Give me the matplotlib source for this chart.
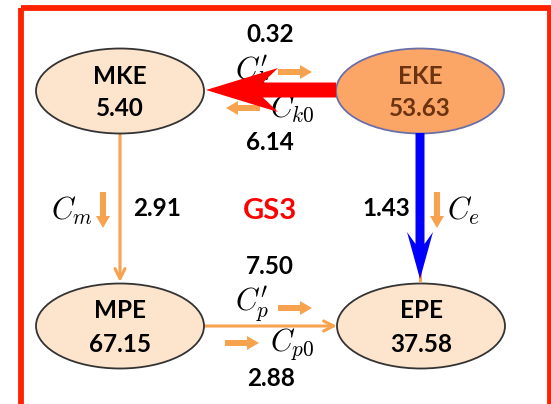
import numpy as np
import matplotlib.pyplot as plt
from matplotlib.patches import Ellipse, Rectangle, Polygon

plt.rcParams['mathtext.fontset'] = 'cm'

# energy reservoirs
box_names = ['MKE', 'EKE', 'MPE', 'EPE']
box_values = ['5.40', '53.63', '67.15', '37.58']
box_xy = [(120, 91), (420, 91), (120, 326), (421, 326)]
box_fill = ['#fde4cd', '#fba567', '#fde4cd', '#fde4cd']
box_edge = ['#333333', '#6a6fa8', '#333333', '#333333']
box_text = ['black', '#6b3410', 'black', 'black']

# conversion terms
conv_values = ['0.32', '6.14', '2.91', '1.43', '7.50', '2.88']
conv_xy = [(270, 35), (270, 142), (157, 208), (386, 208), (270, 266), (271, 378)]
conv_labels = [r"$C_k'$", r'$C_{k0}$', r'$C_m$', r'$C_e$', r"$C_p'$", r'$C_{p0}$']
label_xy = [(252, 72), (292, 108), (72, 211), (464, 211), (252, 305), (292, 344)]
# small direction arrows (start, end)
dir_arrows = [((278, 72), (312, 72)), ((260, 108), (226, 108)),
              ((103, 192), (103, 228)), ((437, 192), (437, 228)),
              ((278, 308), (312, 308)), ((225, 343), (259, 343))]

orange = '#f7a24f'


def arrow_poly(start, end, half_w, head_hw, head_len, notch):
    p0 = np.array(start, float)
    p1 = np.array(end, float)
    u = (p1 - p0) / np.linalg.norm(p1 - p0)
    n = np.array([-u[1], u[0]])
    back = p1 - u * head_len
    junc = p1 - u * (head_len - notch)
    pts = [p0 + n * half_w, junc + n * half_w, back + n * head_hw, p1,
           back - n * head_hw, junc - n * half_w, p0 - n * half_w]
    return np.array(pts)


fig = plt.figure(figsize=(5.51, 4.04), dpi=100)
ax = fig.add_axes([0, 0, 1, 1])
ax.set_xlim(0, 551)
ax.set_ylim(404, 0)
ax.axis('off')

ax.add_patch(Rectangle((21, 8), 528.5, 420, fill=False, ec='#ff2200', lw=4.2, zorder=1))

for (x, y), fc, ec in zip(box_xy, box_fill, box_edge):
    ax.add_patch(Ellipse((x, y), 168, 85, fc=fc, ec=ec, lw=1.3, zorder=3))
for (x, y), name, val, tc in zip(box_xy, box_names, box_values, box_text):
    ax.text(x, y - 15, name, ha='center', va='center', fontsize=17.5,
            fontweight='bold', family='Lato', color=tc, zorder=5)
    ax.text(x, y + 18, val, ha='center', va='center', fontsize=17.5,
            fontweight='bold', family='Lato', color=tc, zorder=5)

# thin orange conversion arrows
ax.annotate('', xy=(120, 282), xytext=(120, 133), zorder=2,
            arrowprops=dict(arrowstyle='->', color=orange, lw=2.2,
                            mutation_scale=18, shrinkA=0, shrinkB=0))
ax.annotate('', xy=(337, 326), xytext=(204, 326), zorder=2,
            arrowprops=dict(arrowstyle='->', color=orange, lw=2.2,
                            mutation_scale=18, shrinkA=0, shrinkB=0))
ax.plot([420, 420], [133, 280], color=orange, lw=2.2, zorder=2)

for (x, y), lab in zip(label_xy, conv_labels):
    ax.text(x, y, lab, ha='center', va='center', fontsize=22, zorder=2)
for (x, y), val in zip(conv_xy, conv_values):
    ax.text(x, y, val, ha='center', va='center', fontsize=17.5,
            fontweight='bold', family='Lato', zorder=5)
ax.text(270, 211, 'GS3', ha='center', va='center', fontsize=21,
        fontweight='bold', family='Lato', color='#ff0000')

for s, e in dir_arrows:
    ax.add_patch(Polygon(arrow_poly(s, e, 3, 7, 12, 0), closed=True,
                         fc=orange, ec='none', zorder=4))

# dominant conversions
ax.add_patch(Polygon(arrow_poly((336, 90), (206, 90), 7.5, 22, 72, 15),
                     closed=True, fc='#ff0000', ec='none', zorder=4))
ax.add_patch(Polygon(arrow_poly((420, 133), (420, 279), 4.5, 13, 47, 12),
                     closed=True, fc='#0000ff', ec='none', zorder=4))

fig.savefig('out.png', dpi=100)
